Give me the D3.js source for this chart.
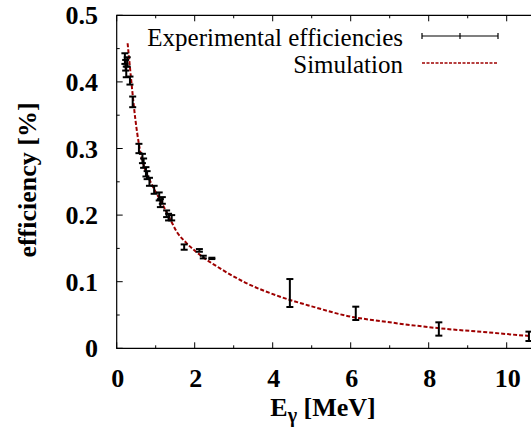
<!DOCTYPE html>
<html><head><meta charset="utf-8">
<script src="https://cdn.jsdelivr.net/npm/d3@7"></script>
<style>html,body{margin:0;padding:0;background:#fff;overflow:hidden}
svg text{font-family:"Liberation Serif","Times New Roman",Times,Tinos,"DejaVu Serif",serif;}</style>
</head><body>
<svg id="c" width="531" height="444"></svg>
<script>
// ---- data ----
const expEnergy = [0.21,0.23,0.245,0.27,0.34,0.41,0.57,0.66,0.69,0.75,0.78,0.84,0.96,1.09,1.12,1.17,1.28,1.33,1.41,1.73,2.12,2.22,2.44,4.44,6.13,8.26,10.57];
const expEff    = [0.435,0.425,0.415,0.43,0.402,0.37,0.30,0.285,0.278,0.265,0.26,0.25,0.238,0.228,0.218,0.222,0.202,0.197,0.196,0.152,0.147,0.137,0.135,0.083,0.0525,0.029,0.018];
const expErr    = [0.008,0.008,0.008,0.007,0.006,0.008,0.007,0.007,0.007,0.007,0.006,0.006,0.006,0.006,0.006,0.005,0.005,0.005,0.004,0.004,0.002,0.002,0.001,0.021,0.010,0.010,0.007];
const simEnergy = [0.28,0.38,0.47,0.58,0.73,0.85,0.96,1.11,1.37,1.54,1.79,2.14,2.65,3.25,4.19,5.0,6.0,6.75,8.29,9.5,10.6,11.0];
const simEff    = [0.458,0.398,0.348,0.303,0.268,0.252,0.239,0.223,0.194,0.175,0.158,0.14,0.12,0.10,0.0775,0.063,0.0475,0.041,0.030,0.024,0.0185,0.017];
const xTicks = [0,2,4,6,8,10];
const yTicks = [0,0.1,0.2,0.3,0.4,0.5];
const legendLabels = ["Experimental efficiencies","Simulation"];

// ---- layout ----
const svg = d3.select("#c");
const L = 116.7, B = 348.3, T = 15.3;
const x = d3.scaleLinear().domain([0,10]).range([L, L+390]);
const y = d3.scaleLinear().domain([0,0.5]).range([B, T]);
const R = x(11.5);
const simColor = "#9e0000";

const g = svg.append("g");
g.append("path").attr("d",`M${R},${T}H${L}V${B}H${R}`).attr("fill","none").attr("stroke","#000").attr("stroke-width",1.2);

const xMinor = d3.range(1,12,2);
xTicks.forEach(v=>{
  g.append("line").attr("x1",x(v)).attr("x2",x(v)).attr("y1",B).attr("y2",B-6).attr("stroke","#000");
  g.append("line").attr("x1",x(v)).attr("x2",x(v)).attr("y1",T).attr("y2",T+6).attr("stroke","#000");
});
xMinor.forEach(v=>{
  g.append("line").attr("x1",x(v)).attr("x2",x(v)).attr("y1",B).attr("y2",B-3).attr("stroke","#000");
  g.append("line").attr("x1",x(v)).attr("x2",x(v)).attr("y1",T).attr("y2",T+3).attr("stroke","#000");
});
yTicks.forEach(v=>{
  g.append("line").attr("x1",L).attr("x2",L+6).attr("y1",y(v)).attr("y2",y(v)).attr("stroke","#000");
});
d3.range(0.05,0.5,0.1).forEach(v=>{
  g.append("line").attr("x1",L).attr("x2",L+3).attr("y1",y(v)).attr("y2",y(v)).attr("stroke","#000");
});

g.selectAll("text.yt").data(yTicks).join("text").attr("class","yt")
  .attr("x",98).attr("y",d=>y(d)+9).attr("text-anchor","end")
  .attr("font-weight","bold").attr("font-size",26)
  .text(d=>d===0?"0":d.toFixed(1));
g.selectAll("text.xt").data(xTicks).join("text").attr("class","xt")
  .attr("x",d=>x(d)+1).attr("y",387).attr("text-anchor","middle")
  .attr("font-weight","bold").attr("font-size",26)
  .text(d=>d);

const xt = g.append("text").attr("x",323).attr("y",416).attr("text-anchor","middle")
  .attr("font-weight","bold").attr("font-size",26);
xt.append("tspan").text("E");
xt.append("tspan").attr("dy",6).attr("font-size",20).text("γ");
xt.append("tspan").attr("dy",-6).text(" [MeV]");
g.append("text").attr("transform","translate(36,180) rotate(-90)").attr("text-anchor","middle")
  .attr("font-weight","bold").attr("font-size",26).text("efficiency [%]");

const line = d3.line().x((d,i)=>x(simEnergy[i])).y(d=>y(d)).curve(d3.curveMonotoneX);
svg.append("clipPath").attr("id","pc").append("rect").attr("x",L).attr("y",T).attr("width",R-L).attr("height",B-T);
g.append("path").datum(simEff).attr("d",line).attr("fill","none").attr("stroke",simColor)
  .attr("stroke-width",2).attr("stroke-dasharray","4,2").attr("clip-path","url(#pc)");

const cap = 3.5;
expEnergy.forEach((e,i)=>{
  const cx = x(e), y1 = y(expEff[i]-expErr[i]), y2 = y(expEff[i]+expErr[i]);
  const eb = g.append("g").attr("stroke","#000").attr("stroke-width",2);
  eb.append("line").attr("x1",cx).attr("x2",cx).attr("y1",y1).attr("y2",y2);
  eb.append("line").attr("x1",cx-cap).attr("x2",cx+cap).attr("y1",y1).attr("y2",y1);
  eb.append("line").attr("x1",cx-cap).attr("x2",cx+cap).attr("y1",y2).attr("y2",y2);
});

const lg = g.append("g");
lg.append("text").attr("x",403).attr("y",46).attr("text-anchor","end")
  .attr("font-size",25).text(legendLabels[0]);
lg.append("text").attr("x",403).attr("y",73).attr("text-anchor","end")
  .attr("font-size",25).text(legendLabels[1]);
const lx1 = 422, lx2 = 498, ly1 = 36, ly2 = 63;
lg.append("line").attr("x1",lx1).attr("x2",lx2).attr("y1",ly1).attr("y2",ly1).attr("stroke","#000").attr("stroke-width",1.2);
[lx1,(lx1+lx2)/2,lx2].forEach(v=>{
  lg.append("line").attr("x1",v).attr("x2",v).attr("y1",ly1-3).attr("y2",ly1+3).attr("stroke","#000").attr("stroke-width",1.2);
});
lg.append("line").attr("x1",lx1).attr("x2",lx2).attr("y1",ly2).attr("y2",ly2).attr("stroke",simColor)
  .attr("stroke-width",1.5).attr("stroke-dasharray","3,1.5");
</script>
</body></html>
